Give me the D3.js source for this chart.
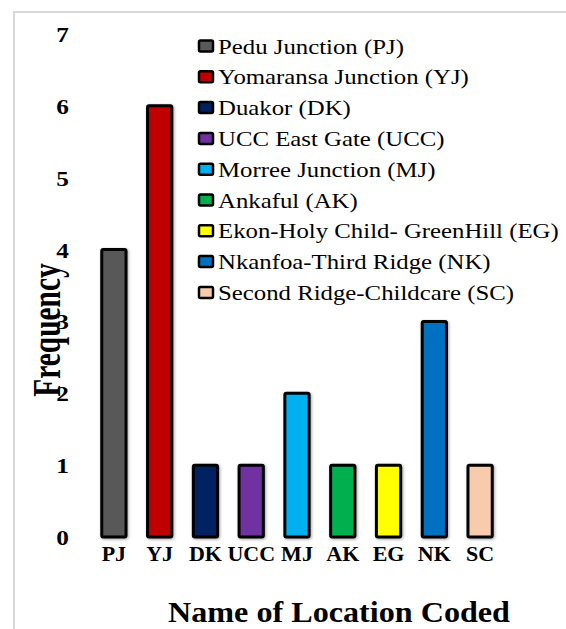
<!DOCTYPE html>
<html>
<head>
<meta charset="utf-8">
<script src="https://cdn.jsdelivr.net/npm/d3@7"></script>
<style>
  body { margin: 0; background: #fff; }
  svg { display: block; font-family: "Liberation Serif", "Times New Roman", serif; }
  .tick-label { font-weight: bold; fill: #000; }
  .legend-text { font-size: 20px; fill: #000; }
</style>
</head>
<body>
<svg id="chart"></svg>
<script>
// data
const codes = ['PJ', 'YJ', 'DK', 'UCC', 'MJ', 'AK', 'EG', 'NK', 'SC'];
const names = ['Pedu Junction (PJ)', 'Yomaransa Junction (YJ)', 'Duakor (DK)', 'UCC East Gate (UCC)',
  'Morree Junction (MJ)', 'Ankaful (AK)', 'Ekon-Holy Child- GreenHill (EG)',
  'Nkanfoa-Third Ridge (NK)', 'Second Ridge-Childcare (SC)'];
const frequency = [4, 6, 1, 1, 2, 1, 1, 3, 1];
const colors = ['#595959', '#c00000', '#002060', '#7030a0', '#00b0f0', '#00b050', '#ffff00', '#0070c0', '#f8cbad'];
const yTicks = [0, 1, 2, 3, 4, 5, 6, 7];

const width = 566, height = 629;
const svg = d3.select('#chart').attr('width', width).attr('height', height);

// soft shadow under the bars
const defs = svg.append('defs');
const f = defs.append('filter').attr('id', 'shadow')
    .attr('x', '-30%').attr('y', '-10%').attr('width', '160%').attr('height', '120%');
f.append('feDropShadow').attr('dx', 1).attr('dy', 1).attr('stdDeviation', 1.8)
    .attr('flood-color', '#000').attr('flood-opacity', 0.35);

// frame of the chart area (runs past the picture edge)
svg.append('rect')
    .attr('x', 14).attr('y', 12)
    .attr('width', 700).attr('height', 700)
    .attr('fill', 'none').attr('stroke', '#d9d9d9').attr('stroke-width', 2);

const xScale = d3.scaleBand().domain(codes).range([91, 503]).paddingInner(0.47).paddingOuter(0.235);
const yScale = d3.scaleLinear().domain([0, 7]).range([537, 34]);

// y axis, labels only (text a bit wider than the font, as in the picture)
const yAxis = d3.axisLeft(yScale).tickValues(yTicks).tickSize(0).tickPadding(0).tickFormat(d3.format('d'));
const yAxisG = svg.append('g').attr('transform', 'translate(69,0)').call(yAxis)
    .attr('font-family', null).attr('font-size', null);
yAxisG.select('.domain').remove();
yAxisG.selectAll('text').attr('class', 'tick-label')
    .style('font-size', '22px').attr('x', 0).attr('dy', '0.34em')
    .attr('transform', 'scale(1.15,1)');

// x axis, labels only
const xAxis = d3.axisBottom(xScale).tickSize(0).tickPadding(0);
const xAxisG = svg.append('g').attr('transform', 'translate(0,561)').call(xAxis)
    .attr('font-family', null).attr('font-size', null);
xAxisG.select('.domain').remove();
xAxisG.selectAll('text').attr('class', 'tick-label')
    .style('font-size', '20px').attr('y', 0).attr('dy', 0)
    .attr('transform', 'scale(1.1,1)');

// bars
svg.append('g').selectAll('rect')
  .data(codes)
  .join('rect')
    .attr('x', d => xScale(d))
    .attr('y', (d, i) => yScale(frequency[i]))
    .attr('width', xScale.bandwidth())
    .attr('height', (d, i) => yScale(0) - yScale(frequency[i]))
    .attr('rx', 1.5)
    .attr('fill', (d, i) => colors[i])
    .attr('stroke', '#000').attr('stroke-width', 3)
    .attr('filter', 'url(#shadow)');

// legend
const legend = svg.append('g').attr('transform', 'translate(199,46.5)');
const rows = legend.selectAll('g').data(names).join('g')
    .attr('transform', (d, i) => `translate(0,${i * 30.8})`);
rows.append('rect')
    .attr('x', 0).attr('y', -6).attr('width', 14).attr('height', 11).attr('rx', 1.5)
    .attr('fill', (d, i) => colors[i]).attr('stroke', '#000').attr('stroke-width', 2.5);
rows.append('text')
    .attr('class', 'legend-text')
    .attr('transform', 'translate(19,0) scale(1.24,1)')
    .attr('dy', '0.35em')
    .text(d => d);

// axis titles
svg.append('text')
    .attr('transform', 'translate(60,330) scale(1.38,1) rotate(-90)')
    .attr('text-anchor', 'middle')
    .style('font-weight', 'bold').style('font-size', '29.4px')
    .text('Frequency');

svg.append('text')
    .attr('transform', 'translate(339,622) scale(1.09,1)')
    .attr('text-anchor', 'middle')
    .style('font-weight', 'bold').style('font-size', '29.5px')
    .text('Name of Location Coded');
</script>
</body>
</html>
